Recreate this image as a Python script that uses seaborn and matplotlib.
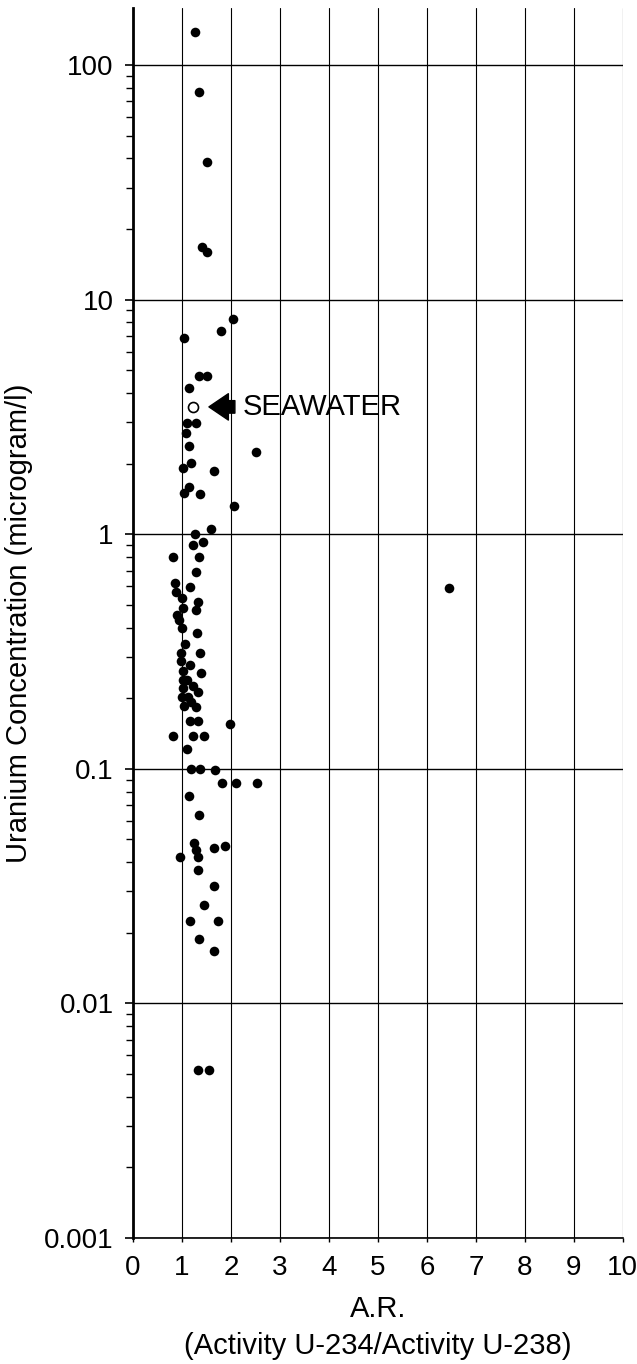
import matplotlib
matplotlib.use("Agg")
import matplotlib.pyplot as plt
import matplotlib.ticker as mticker
import seaborn as sns
import pandas as pd

# ---- data ----
activity_ratio = [
    1.27, 1.34, 1.51, 1.40, 1.51,
    2.04, 1.79, 1.04, 1.35, 1.51, 1.14,
    1.10, 1.29, 1.09, 1.15, 2.51, 1.18, 1.02, 1.66, 1.15, 1.05, 1.37, 2.07,
    1.60, 1.26, 1.22, 1.42, 0.82, 1.34,
    1.29, 0.85, 1.17, 0.87, 1.01, 1.32, 1.03, 1.29, 0.89, 0.94, 0.99, 1.31,
    1.07, 0.97, 1.37, 0.98, 1.16,
    1.38, 1.02, 1.02, 1.03, 1.00, 1.05, 1.22, 1.32, 1.12, 1.19, 1.29, 1.10,
    1.17, 1.32, 1.97, 0.81, 1.22, 1.45, 1.11, 1.18, 1.37, 1.67, 1.82, 2.11, 2.54,
    1.15, 1.35, 1.24, 1.28, 1.33, 0.96, 1.65, 1.88, 1.33, 1.65, 1.44,
    1.17, 1.73, 1.35, 1.65, 1.33, 1.55,
    6.45,
]
uranium_conc = [
    138, 76.9, 38.6, 16.8, 16.0,
    8.3, 7.37, 6.83, 4.72, 4.72, 4.2,
    2.99, 2.99, 2.71, 2.37, 2.25, 2.02, 1.91, 1.86, 1.59, 1.50, 1.49, 1.32,
    1.05, 1.00, 0.90, 0.93, 0.80, 0.80,
    0.689, 0.618, 0.595, 0.569, 0.536, 0.512, 0.487, 0.473, 0.452, 0.430, 0.399, 0.379,
    0.342, 0.313, 0.313, 0.288, 0.277,
    0.257, 0.260, 0.238, 0.220, 0.203, 0.186, 0.226, 0.213, 0.203, 0.193, 0.184, 0.238,
    0.160, 0.160, 0.155, 0.138, 0.138, 0.138, 0.121, 0.100, 0.100, 0.099, 0.0873, 0.0870, 0.0868,
    0.0764, 0.0636, 0.0483, 0.0451, 0.0421, 0.042, 0.0458, 0.047, 0.037, 0.0315, 0.0262,
    0.0225, 0.0225, 0.0188, 0.0168, 0.00518, 0.0052,
    0.59,
]
seawater_ar = [1.23]
seawater_u = [3.49]
seawater_label = "SEAWATER"

x_ticks = [0, 1, 2, 3, 4, 5, 6, 7, 8, 9, 10]
x_tick_labels = ["0", "1", "2", "3", "4", "5", "6", "7", "8", "9", "10"]
y_ticks = [0.001, 0.01, 0.1, 1, 10, 100]
y_tick_labels = ["0.001", "0.01", "0.1", "1", "10", "100"]
x_label = "A.R.\n(Activity U-234/Activity U-238)"
y_label = "Uranium Concentration (microgram/l)"

df = pd.DataFrame({"ar": activity_ratio, "u": uranium_conc})
sw = pd.DataFrame({"ar": seawater_ar, "u": seawater_u})

sns.set_style("white")
plt.rcParams["font.family"] = ["Liberation Sans", "DejaVu Sans"]

fig = plt.figure(figsize=(6.37, 13.64), dpi=100)
ax = fig.add_axes([0.2088, 0.0924, 0.769, 0.9017])

sns.scatterplot(data=df, x="ar", y="u", ax=ax, color="black", s=48,
                linewidth=0, zorder=3)
sns.scatterplot(data=sw, x="ar", y="u", ax=ax, facecolor="white",
                edgecolor="black", s=52, linewidth=1.2, zorder=4)

ax.set_yscale("log")
ax.set_xlim(0, 10)
ax.set_ylim(0.001, 175)

ax.xaxis.set_major_locator(mticker.FixedLocator(x_ticks))
ax.xaxis.set_major_formatter(mticker.FixedFormatter(x_tick_labels))
ax.yaxis.set_major_locator(mticker.FixedLocator(y_ticks))
ax.yaxis.set_major_formatter(mticker.FixedFormatter(y_tick_labels))
ax.yaxis.set_minor_locator(mticker.LogLocator(base=10, subs=range(2, 10), numticks=20))
ax.yaxis.set_minor_formatter(mticker.NullFormatter())

ax.grid(True, which="major", axis="y", color="black", linewidth=1.0)
ax.grid(True, which="major", axis="x", color="black", linewidth=0.8)
ax.set_axisbelow(True)

for side in ["top", "right"]:
    ax.spines[side].set_visible(False)
ax.spines["left"].set_linewidth(2.0)
ax.spines["bottom"].set_linewidth(1.2)
ax.spines["left"].set_color("black")
ax.spines["bottom"].set_color("black")

ax.tick_params(axis="x", which="major", direction="out", length=3, width=1,
               pad=9, labelsize=20, colors="black", bottom=True)
ax.tick_params(axis="y", which="major", direction="out", length=6, width=1.2,
               pad=8, labelsize=20, colors="black", left=True)
ax.tick_params(axis="y", which="minor", direction="out", length=5, width=1.0,
               colors="black", left=True)

ax.set_xlabel(x_label, fontsize=21, linespacing=1.45, labelpad=10, color="black")
ax.set_ylabel(y_label, fontsize=21, labelpad=8, color="black")

ax.annotate("", xy=(1.55, 3.49), xytext=(2.08, 3.49),
            arrowprops=dict(arrowstyle="simple,head_length=0.7,head_width=0.95,tail_width=0.45",
                            fc="black", ec="black", mutation_scale=20,
                            shrinkA=0, shrinkB=0), zorder=5)
ax.text(2.24, 3.49, seawater_label, fontsize=21, va="center", ha="left", color="black")

fig.savefig("out.png", dpi=100, facecolor="white")
